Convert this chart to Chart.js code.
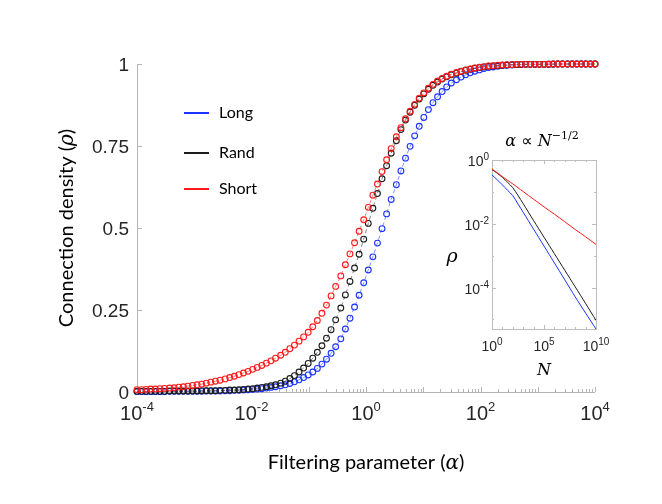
<!DOCTYPE html>
<html>
<head>
<meta charset="utf-8">
<script src="https://cdn.jsdelivr.net/npm/chart.js@4.4.1/dist/chart.umd.min.js"></script>
<style>
  html, body { margin: 0; padding: 0; background: #fff; }
  #wrap { position: relative; width: 662px; height: 504px; }
  #wrap canvas { position: absolute; left: 0; top: 0; }
</style>
</head>
<body>
<div id="wrap">
  <canvas id="mainChart" width="662" height="504"></canvas>
  <canvas id="insetChart" width="662" height="504"></canvas>
</div>
<script>
// ---------- main panel data: rho vs log10(alpha) ----------
const alphaExp = [
  -4.00,-3.92,-3.84,-3.76,-3.68,-3.60,-3.52,-3.43,-3.35,-3.27,
  -3.19,-3.11,-3.03,-2.95,-2.87,-2.79,-2.71,-2.63,-2.55,-2.46,
  -2.38,-2.30,-2.22,-2.14,-2.06,-1.98,-1.90,-1.82,-1.74,-1.66,
  -1.58,-1.49,-1.41,-1.33,-1.25,-1.17,-1.09,-1.01,-0.93,-0.85,
  -0.77,-0.69,-0.61,-0.53,-0.44,-0.36,-0.28,-0.20,-0.12,-0.04,
   0.04, 0.12, 0.20, 0.28, 0.36, 0.44, 0.53, 0.61, 0.69, 0.77,
   0.85, 0.93, 1.01, 1.09, 1.17, 1.25, 1.33, 1.41, 1.49, 1.58,
   1.66, 1.74, 1.82, 1.90, 1.98, 2.06, 2.14, 2.22, 2.30, 2.38,
   2.46, 2.55, 2.63, 2.71, 2.79, 2.87, 2.95, 3.03, 3.11, 3.19,
   3.27, 3.35, 3.43, 3.52, 3.60, 3.68, 3.76, 3.84, 3.92, 4.00
];

const rhoLong = [
  0.001,0.001,0.001,0.001,0.001,0.001,0.001,0.002,0.002,0.002,
  0.002,0.002,0.002,0.002,0.002,0.003,0.003,0.003,0.003,0.004,
  0.004,0.005,0.005,0.006,0.007,0.008,0.009,0.010,0.012,0.014,
  0.016,0.019,0.022,0.026,0.031,0.037,0.044,0.052,0.061,0.072,
  0.085,0.100,0.118,0.138,0.162,0.192,0.225,0.259,0.295,0.333,
  0.372,0.412,0.454,0.498,0.543,0.587,0.632,0.674,0.713,0.749,
  0.781,0.810,0.837,0.861,0.882,0.900,0.916,0.930,0.942,0.952,
  0.960,0.967,0.973,0.978,0.982,0.986,0.989,0.991,0.993,0.995,
  0.996,0.997,0.998,0.998,0.999,0.999,0.999,0.999,0.999,0.999,
  0.999,1.000,1.000,1.000,1.000,1.000,1.000,1.000,1.000,1.000
];

const rhoRand = [
  0.002,0.002,0.002,0.002,0.002,0.002,0.002,0.003,0.003,0.003,
  0.003,0.003,0.003,0.003,0.004,0.004,0.004,0.004,0.005,0.005,
  0.006,0.006,0.007,0.008,0.009,0.010,0.012,0.014,0.016,0.019,
  0.022,0.027,0.033,0.041,0.050,0.061,0.073,0.087,0.103,0.121,
  0.141,0.164,0.190,0.220,0.256,0.296,0.337,0.378,0.420,0.466,
  0.514,0.560,0.605,0.650,0.690,0.728,0.766,0.800,0.829,0.853,
  0.874,0.893,0.909,0.923,0.935,0.945,0.954,0.961,0.967,0.972,
  0.977,0.981,0.984,0.987,0.989,0.991,0.993,0.994,0.995,0.996,
  0.997,0.998,0.998,0.999,0.999,0.999,0.999,0.999,0.999,0.999,
  1.000,1.000,1.000,1.000,1.000,1.000,1.000,1.000,1.000,1.000
];

const rhoShort = [
  0.007,0.007,0.008,0.009,0.009,0.010,0.011,0.012,0.013,0.015,
  0.016,0.018,0.020,0.022,0.024,0.027,0.030,0.033,0.036,0.040,
  0.044,0.048,0.053,0.058,0.063,0.069,0.075,0.081,0.088,0.095,
  0.103,0.112,0.121,0.132,0.143,0.155,0.168,0.182,0.199,0.218,
  0.240,0.265,0.293,0.322,0.354,0.388,0.421,0.455,0.490,0.525,
  0.563,0.600,0.634,0.672,0.708,0.742,0.778,0.806,0.833,0.856,
  0.877,0.896,0.912,0.926,0.938,0.948,0.956,0.963,0.969,0.974,
  0.978,0.982,0.985,0.988,0.990,0.992,0.994,0.995,0.996,0.997,
  0.998,0.998,0.999,0.999,0.999,0.999,0.999,0.999,0.999,1.000,
  1.000,1.000,1.000,1.000,1.000,1.000,1.000,1.000,1.000,1.000
];

const seriesNames = ["Long", "Rand", "Short"];
const seriesColors = ["#1a33ff", "#1c1c1c", "#ff1a1a"];

const xTickExps = [-4, -2, 0, 2, 4];
const yTickVals = [0, 0.25, 0.5, 0.75, 1];
const yTickText = ["0", "0.25", "0.5", "0.75", "1"];

// ---------- inset data: rho vs N ----------
const insetN = [1, 3.16, 10, 31.6, 100, 316, 1e3, 1e4, 1e5, 1e6, 1e7, 1e8, 1e9, 1e10];
const insetLong  = [0.339, 0.240, 0.166, 0.112, 0.0759, 0.0417, 0.0229, 0.00676, 0.0020, 5.9e-4, 1.74e-4, 5.1e-5, 1.58e-5, 5.0e-6];
const insetRand  = [0.501, 0.385, 0.285, 0.200, 0.135, 0.0776, 0.0427, 0.0126, 0.0038, 0.00115, 3.47e-4, 1.05e-4, 3.16e-5, 9.3e-6];
const insetShort = [0.525, 0.398, 0.302, 0.229, 0.178, 0.135, 0.102, 0.0589, 0.0339, 0.0200, 0.0115, 0.0066, 0.0039, 0.00224];
const insetGuideN = [1, 3.16, 10, 31.6];
const insetGuide  = [0.80, 0.50, 0.30, 0.17];
const insetYExps = [0, -2, -4];
const insetXExps = [0, 5, 10];

const SANS = '"Liberation Sans", Arial, sans-serif';
const LABEL = 'Lato, "Open Sans", sans-serif';
const SERIF = '"DejaVu Serif", "Liberation Serif", serif';

// draws a row of text pieces with their own fonts and vertical shifts
function drawRuns(ctx, runs, x, y, align) {
  let total = 0;
  runs.forEach(r => { ctx.font = r.font; r.w = ctx.measureText(r.t).width; total += r.w; });
  let cx = align === "center" ? x - total / 2 : align === "right" ? x - total : x;
  ctx.textAlign = "left";
  runs.forEach(r => {
    ctx.font = r.font;
    ctx.fillText(r.t, cx, y + (r.dy || 0));
    cx += r.w;
  });
}

function powRuns(exp, base, sup, dy) {
  return [
    { t: "10", font: base + "px " + SANS },
    { t: String(exp), font: sup + "px " + SANS, dy: dy }
  ];
}

const mainAxes = {
  id: "mainAxes",
  beforeDatasetsDraw(chart) {
    const { ctx, chartArea: a, scales: { x, y } } = chart;
    ctx.save();
    ctx.strokeStyle = "#b4b4b4";
    ctx.lineWidth = 1;
    ctx.beginPath();
    ctx.moveTo(a.left + 0.5, a.top);
    ctx.lineTo(a.left + 0.5, a.bottom + 0.5);
    ctx.lineTo(a.right, a.bottom + 0.5);
    // y ticks, pointing in
    yTickVals.forEach(v => {
      const py = Math.round(y.getPixelForValue(v)) + 0.5;
      ctx.moveTo(a.left, py);
      ctx.lineTo(a.left + 5, py);
    });
    // x ticks, decades and minor ticks
    for (let d = -4; d <= 4; d++) {
      for (let m = 1; m <= 9; m++) {
        const val = m * Math.pow(10, d);
        if (val > 1e4 * 1.0001) break;
        const px = Math.round(x.getPixelForValue(val)) + 0.5;
        const len = m === 1 ? 5 : 3;
        ctx.moveTo(px, a.bottom);
        ctx.lineTo(px, a.bottom - len);
      }
    }
    ctx.stroke();

    ctx.fillStyle = "#262626";
    ctx.textBaseline = "alphabetic";
    yTickVals.forEach((v, i) => {
      ctx.font = "19px " + SANS;
      ctx.textAlign = "right";
      ctx.fillText(yTickText[i], a.left - 8, y.getPixelForValue(v) + 7);
    });
    xTickExps.forEach(e => {
      drawRuns(ctx, powRuns(e, 20, 13, -9), x.getPixelForValue(Math.pow(10, e)), a.bottom + 28, "center");
    });

    // axis titles
    ctx.fillStyle = "#000";
    drawRuns(ctx, [
      { t: "Filtering parameter (", font: "20px " + LABEL },
      { t: "α", font: "italic 20px " + SERIF },
      { t: ")", font: "20px " + LABEL }
    ], (a.left + a.right) / 2, 469, "center");
    ctx.save();
    ctx.translate(73, (a.top + a.bottom) / 2);
    ctx.rotate(-Math.PI / 2);
    drawRuns(ctx, [
      { t: "Connection density (", font: "20px " + LABEL },
      { t: "ρ", font: "italic 20px " + SERIF },
      { t: ")", font: "20px " + LABEL }
    ], 0, 0, "center");
    ctx.restore();

    // legend
    const legY = [113, 153, 189];
    seriesNames.forEach((name, i) => {
      ctx.strokeStyle = seriesColors[i];
      ctx.lineWidth = 2;
      ctx.beginPath();
      ctx.moveTo(184, legY[i]);
      ctx.lineTo(209, legY[i]);
      ctx.stroke();
      ctx.fillStyle = "#000";
      ctx.font = "16px " + LABEL;
      ctx.textAlign = "left";
      ctx.textBaseline = "middle";
      ctx.fillText(name, 219, legY[i]);
    });
    ctx.restore();
  }
};

const insetAxes = {
  id: "insetAxes",
  beforeDatasetsDraw(chart) {
    const { ctx, chartArea: a, scales: { x, y } } = chart;
    ctx.save();
    ctx.strokeStyle = "#bdbdbd";
    ctx.lineWidth = 1;
    ctx.strokeRect(a.left + 0.5, a.top + 0.5, a.right - a.left, a.bottom - a.top);
    ctx.beginPath();
    for (let d = 0; d >= -5; d--) {
      const py = Math.round(y.getPixelForValue(Math.pow(10, d))) + 0.5;
      const len = d % 2 === 0 ? 4 : 2;
      ctx.moveTo(a.left, py); ctx.lineTo(a.left + len, py);
      ctx.moveTo(a.right, py); ctx.lineTo(a.right - len, py);
    }
    for (let d = 0; d <= 10; d++) {
      const px = Math.round(x.getPixelForValue(Math.pow(10, d))) + 0.5;
      const len = d % 5 === 0 ? 4 : 2;
      ctx.moveTo(px, a.bottom); ctx.lineTo(px, a.bottom - len);
      ctx.moveTo(px, a.top); ctx.lineTo(px, a.top + len);
    }
    ctx.stroke();

    ctx.fillStyle = "#262626";
    ctx.textBaseline = "alphabetic";
    insetYExps.forEach(e => {
      drawRuns(ctx, powRuns(e, 14, 10, -6), a.left - 3, y.getPixelForValue(Math.pow(10, e)) + 6, "right");
    });
    insetXExps.forEach(e => {
      drawRuns(ctx, powRuns(e, 14, 10, -6), x.getPixelForValue(Math.pow(10, e)), a.bottom + 22, "center");
    });

    ctx.fillStyle = "#000";
    drawRuns(ctx, [
      { t: "α", font: "italic 16px " + SERIF },
      { t: " ∝ ", font: "16px \"DejaVu Sans\", sans-serif" },
      { t: "N", font: "italic 16px " + SERIF },
      { t: "−1/2", font: "11px " + SERIF, dy: -7 }
    ], (a.left + a.right) / 2 - 2, 146, "center");
    drawRuns(ctx, [{ t: "ρ", font: "italic 19px " + SERIF }], 452, 262, "center");
    drawRuns(ctx, [{ t: "N", font: "italic 16px " + SERIF }], (a.left + a.right) / 2, 375, "center");
    ctx.restore();
  }
};

const mainSets = [rhoLong, rhoRand, rhoShort].map((vals, i) => ({
  label: seriesNames[i],
  data: alphaExp.map((e, k) => ({ x: Math.pow(10, e), y: vals[k] })),
  borderColor: seriesColors[i] + "b0",
  borderWidth: 0.8,
  borderDash: [4, 3],
  pointRadius: 2.9,
  pointBorderWidth: 1.1,
  pointBorderColor: seriesColors[i],
  pointBackgroundColor: "rgba(0,0,0,0)",
  pointHoverRadius: 2.9,
  tension: 0,
  clip: false,
  order: 3 - i
}));

const hiddenScale = (type, min, max) => ({
  type: type, min: min, max: max,
  grid: { display: false, drawTicks: false },
  border: { display: false },
  ticks: { display: false }
});

new Chart(document.getElementById("mainChart"), {
  type: "line",
  data: { datasets: mainSets },
  options: {
    responsive: false,
    animation: false,
    devicePixelRatio: 1,
    layout: { padding: { left: 137, right: 67, top: 64, bottom: 112 } },
    plugins: { legend: { display: false }, tooltip: { enabled: false } },
    events: [],
    scales: {
      x: hiddenScale("logarithmic", 1e-4, 1e4),
      y: hiddenScale("linear", 0, 1)
    }
  },
  plugins: [mainAxes]
});

const insetSets = [insetLong, insetRand, insetShort].map((vals, i) => ({
  label: seriesNames[i],
  data: insetN.map((n, k) => ({ x: n, y: vals[k] })),
  borderColor: seriesColors[i],
  borderWidth: 1,
  pointRadius: 0,
  tension: 0.3,
  order: 3 - i
}));
insetSets.push({
  label: "guide",
  data: insetGuideN.map((n, k) => ({ x: n, y: insetGuide[k] })),
  borderColor: "rgba(150,150,150,0.6)",
  borderWidth: 1,
  borderDash: [1, 2],
  pointRadius: 0,
  order: 0
});

new Chart(document.getElementById("insetChart"), {
  type: "line",
  data: { datasets: insetSets },
  options: {
    responsive: false,
    animation: false,
    devicePixelRatio: 1,
    layout: { padding: { left: 492, right: 66, top: 160, bottom: 175 } },
    plugins: { legend: { display: false }, tooltip: { enabled: false } },
    events: [],
    scales: {
      x: hiddenScale("logarithmic", 1, 1e10),
      y: hiddenScale("logarithmic", 5e-6, 1)
    }
  },
  plugins: [insetAxes]
});
</script>
</body>
</html>
